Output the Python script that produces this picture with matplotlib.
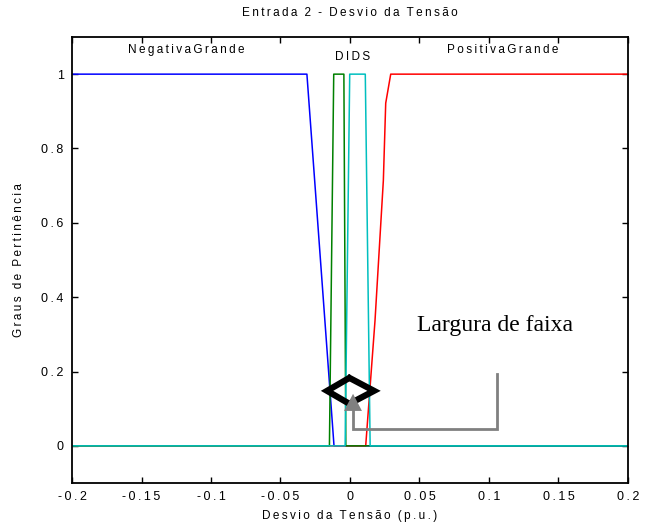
import matplotlib
matplotlib.use("Agg")
import matplotlib.pyplot as plt

# ---- data ----
neg_x = [-0.2, -0.031, -0.0115, 0.2]
neg_y = [1, 1, 0, 0]
dids1_x = [-0.2, -0.0148, -0.0117, -0.0044, -0.003, 0.2]
dids1_y = [0, 0, 1, 1, 0, 0]
dids2_x = [-0.2, -0.0035, -0.0002, 0.011, 0.0145, 0.2]
dids2_y = [0, 0, 1, 1, 0, 0]
pos_x = [-0.2, 0.0113, 0.018, 0.024, 0.0257, 0.0293, 0.2]
pos_y = [0, 0, 0.337, 0.714, 0.922, 1, 1]

T = "\u2009"  # thin space used as letter spacing


def spaced(s):
    return (T * 3).join(T.join(w) for w in s.split(" "))


xticks = [-0.2, -0.15, -0.1, -0.05, 0, 0.05, 0.1, 0.15, 0.2]
xticklabels = ["-0.2", "-0.15", "-0.1", "-0.05", "0", "0.05", "0.1", "0.15", "0.2"]
yticks = [0, 0.2, 0.4, 0.6, 0.8, 1]
yticklabels = ["0", "0.2", "0.4", "0.6", "0.8", "1"]

set_labels = ["NegativaGrande", "DIDS", "PositivaGrande"]
set_label_x = [-0.118, 0.0015, 0.110]
set_label_y = [1.066, 1.046, 1.066]

title = "Entrada 2 - Desvio da Tensão"
xlabel = "Desvio da Tensão (p.u.)"
ylabel = "Graus de Pertinência"

# annotation shapes (data coordinates)
chev_left_x = [0.001, -0.0165, 0.001]
chev_left_y = [0.186, 0.148, 0.110]
chev_right_x = [-0.002, 0.0173, -0.002]
chev_right_y = [0.186, 0.148, 0.110]
tri_x = [0.0022, -0.0043, 0.0086]
tri_y = [0.140, 0.094, 0.094]
path_x = [0.0022, 0.0022, 0.1058, 0.1058]
path_y = [0.094, 0.046, 0.046, 0.194]

# ---- fonts ----
plt.rcParams['font.family'] = ['Liberation Sans', 'DejaVu Sans']
plt.rcParams['axes.unicode_minus'] = False

fig = plt.figure(figsize=(6.47, 5.26), dpi=100)
ax = fig.add_axes([0.1113, 0.0817, 0.8593, 0.848])

ax.plot(neg_x, neg_y, color="#0000ff", lw=1.1)
ax.plot(pos_x, pos_y, color="#ff0000", lw=1.1)
ax.plot(dids1_x, dids1_y, color="#008000", lw=1.1)
ax.plot(dids2_x, dids2_y, color="#00bfbf", lw=1.1)

ax.set_xlim(-0.2, 0.2)
ax.set_ylim(-0.1, 1.1)
ax.set_xticks(xticks)
ax.set_xticklabels([spaced(t) for t in xticklabels], fontsize=9)
ax.set_yticks(yticks)
ax.set_yticklabels([spaced(t) for t in yticklabels], fontsize=9)
ax.tick_params(direction="in", length=4, width=1, top=True, right=True, pad=6)
for s in ax.spines.values():
    s.set_linewidth(1.3)

ax.set_title(spaced(title), fontsize=8.5, pad=15)
ax.set_xlabel(spaced(xlabel), fontsize=8.5, labelpad=5)
ax.set_ylabel(spaced(ylabel), fontsize=8.5, labelpad=12)

for t, x, y in zip(set_labels, set_label_x, set_label_y):
    ax.text(x, y, spaced(t), ha="center", va="center", fontsize=8.5)

# annotations
ax.plot(chev_left_x, chev_left_y, color="black", lw=4.5, solid_joinstyle="miter",
        solid_capstyle="butt", zorder=4)
ax.plot(chev_right_x, chev_right_y, color="black", lw=4.5, solid_joinstyle="miter",
        solid_capstyle="butt", zorder=4)
ax.plot(path_x, path_y, color="#808080", lw=2, solid_joinstyle="miter", zorder=5)
ax.fill(tri_x, tri_y, color="#808080", lw=0, zorder=6)
ax.text(0.048, 0.324, "Largura de faixa", family=["Liberation Serif", "DejaVu Serif"],
        fontsize=17, ha="left", va="center")

fig.savefig("out.png", dpi=100)
